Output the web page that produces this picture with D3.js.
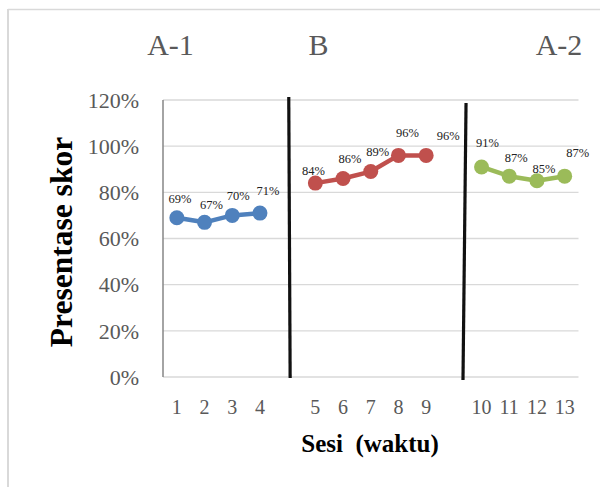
<!DOCTYPE html>
<html lang="id">
<head>
<meta charset="UTF-8">
<title>Presentase skor</title>
<script src="https://d3js.org/d3.v7.min.js"></script>
<style>
  body { margin: 0; background: #fff; }
  text { font-family: "Liberation Serif", "Times New Roman", serif; }
</style>
</head>
<body>
<svg width="600" height="487"></svg>
<script>
// slots on the x axis (blank slots are the phase gaps)
const slotLabels = ["1", "2", "3", "4", "", "5", "6", "7", "8", "9", "", "10", "11", "12", "13"];
const yTicks = [0, 20, 40, 60, 80, 100, 120];

const phaseNames = ["A-1", "B", "A-2"];
const a1Slots = [0, 1, 2, 3];
const a1Values = [69, 67, 70, 71];
const bSlots = [5, 6, 7, 8, 9];
const bValues = [84, 86, 89, 96, 96];
const a2Slots = [11, 12, 13, 14];
const a2Values = [91, 87, 85, 87];

// phase change lines, [slot, value] at top and bottom
const phaseLines = [
  [[4.04, 121.3], [4.09, -0.4]],
  [[10.44, 118.7], [10.33, -1.3]]
];

const svg = d3.select("svg");
const plotL = 163, plotR = 578.5, plotT = 100, plotB = 377;

const x = d3.scaleLinear().domain([-0.5, slotLabels.length - 0.5]).range([plotL, plotR]);
const y = d3.scaleLinear().domain([0, 120]).range([plotB, plotT]);

// chart border (left + top only visible)
svg.append("line").attr("x1", 8).attr("y1", 9).attr("x2", 8).attr("y2", 487)
  .attr("stroke", "#d9d9d9").attr("stroke-width", 2);
svg.append("line").attr("x1", 8).attr("y1", 9.5).attr("x2", 600).attr("y2", 9.5)
  .attr("stroke", "#d9d9d9").attr("stroke-width", 1.5);

// gridlines
svg.append("g").selectAll("line").data(yTicks).enter().append("line")
  .attr("x1", plotL).attr("x2", plotR)
  .attr("y1", d => y(d)).attr("y2", d => y(d))
  .attr("stroke", "#d9d9d9").attr("stroke-width", 1.3);

// y axis line
svg.append("line").attr("x1", plotL).attr("x2", plotL).attr("y1", y(120)).attr("y2", y(0))
  .attr("stroke", "#868686").attr("stroke-width", 1.5);

// y tick labels
svg.append("g").selectAll("text").data(yTicks).enter().append("text")
  .attr("x", 139).attr("y", d => y(d)).attr("dy", "0.35em")
  .attr("text-anchor", "end").attr("font-size", 22).attr("fill", "#595959")
  .text(d => d + "%");

// x tick labels
svg.append("g").selectAll("text").data(slotLabels).enter().append("text")
  .attr("x", (d, i) => x(i)).attr("y", 414)
  .attr("text-anchor", "middle").attr("font-size", 20).attr("fill", "#595959")
  .text(d => d);

// axis titles
svg.append("text")
  .attr("transform", "translate(72," + 242 + ") rotate(-90)")
  .attr("text-anchor", "middle").attr("font-size", 31.5).attr("font-weight", "bold")
  .attr("fill", "#000").text("Presentase skor");

svg.append("text")
  .attr("x", 370).attr("y", 452).attr("text-anchor", "middle")
  .attr("font-size", 25).attr("font-weight", "bold").attr("fill", "#000")
  .text("Sesi\u00a0 (waktu)");

// phase titles
svg.append("g").selectAll("text").data(phaseNames).enter().append("text")
  .attr("x", (d, i) => [170.5, 318.5, 559][i]).attr("y", 55)
  .attr("text-anchor", "middle").attr("font-size", 30).attr("fill", "#595959")
  .text(d => d);

// phase change lines
svg.append("g").selectAll("line").data(phaseLines).enter().append("line")
  .attr("x1", d => x(d[0][0])).attr("y1", d => y(d[0][1]))
  .attr("x2", d => x(d[1][0])).attr("y2", d => y(d[1][1]))
  .attr("stroke", "#111").attr("stroke-width", 3.2);

// series
const series = [
  { slots: a1Slots, values: a1Values, color: "#4f81bd", nudge: [[3, -15], [7, -13], [6, -15], [8, -18]] },
  { slots: bSlots, values: bValues, color: "#c0504d", nudge: [[-2, -8], [7, -15], [7, -16], [9, -18], [22, -15]] },
  { slots: a2Slots, values: a2Values, color: "#9bbb59", nudge: [[6, -20], [7, -14], [7, -8], [13, -19]] }
];

const line = d3.line().x(d => x(d[0])).y(d => y(d[1]));

series.forEach(s => {
  const pts = s.slots.map((sl, i) => [sl, s.values[i]]);
  const g = svg.append("g");
  g.append("path").datum(pts).attr("d", line)
    .attr("fill", "none").attr("stroke", s.color).attr("stroke-width", 4.5)
    .attr("stroke-linejoin", "round");
  g.selectAll("circle").data(pts).enter().append("circle")
    .attr("cx", d => x(d[0])).attr("cy", d => y(d[1])).attr("r", 7.5)
    .attr("fill", s.color);
  g.selectAll("text").data(pts).enter().append("text")
    .attr("x", (d, i) => x(d[0]) + s.nudge[i][0])
    .attr("y", (d, i) => y(d[1]) + s.nudge[i][1])
    .attr("text-anchor", "middle").attr("font-size", 12.5).attr("fill", "#222")
    .text(d => d[1] + "%");
});
</script>
</body>
</html>
